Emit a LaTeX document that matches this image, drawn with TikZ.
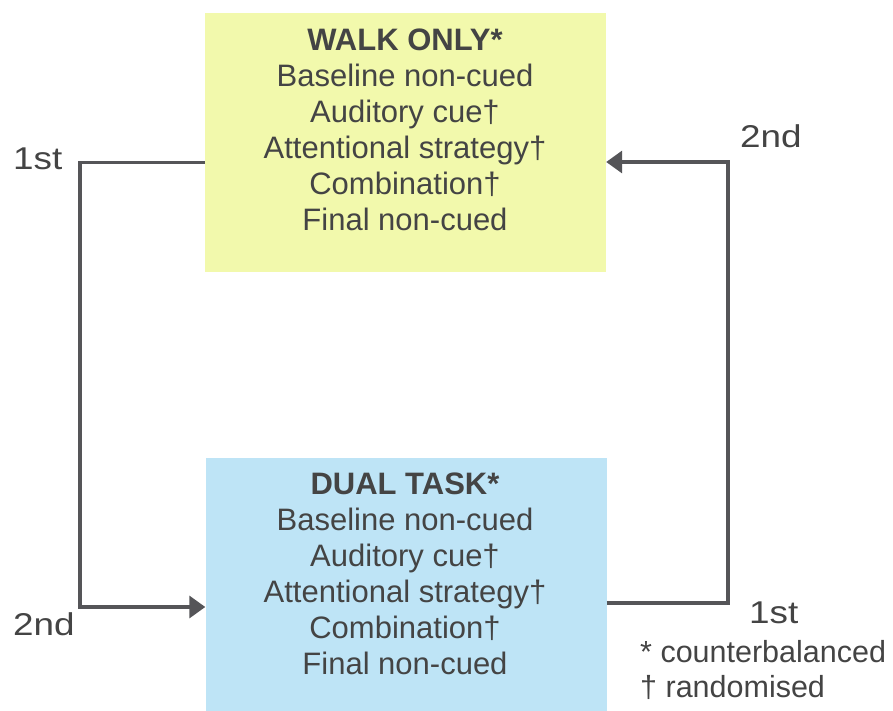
\documentclass[tikz,border=0pt]{standalone}
\usepackage{fontspec}
\setmainfont{Liberation Sans}
\usepackage{graphicx}
\usetikzlibrary{arrows.meta,calc}
\definecolor{walkfill}{RGB}{242,249,172}
\definecolor{dualfill}{RGB}{190,228,246}
\definecolor{ink}{RGB}{68,68,68}
\definecolor{wire}{RGB}{85,85,88}
\tikzset{
  boxshape/.style={rectangle, draw=none, inner sep=0pt, minimum width=401pt},
  boxtext/.style={inner sep=0pt, align=center, text=ink, font=\fontsize{31}{36}\selectfont},
  lbl/.style={inner sep=0pt, text=ink, font=\fontsize{31.5}{36}\selectfont},
  conn/.style={draw=wire, line width=3.4pt},
  tip/.style={-{Triangle[length=16pt,width=22pt]}}
}
\newcommand{\wlbl}[1]{\scalebox{1.17}[1]{#1}}
\begin{document}
\begin{tikzpicture}[x=1pt,y=-1pt]
\useasboundingbox[fill=white] (0,0) rectangle (893,711);
% boxes
\node[boxshape, fill=walkfill, minimum height=259pt] (walk) at (405.5,142.5) {};
\node[boxshape, fill=dualfill, minimum height=253pt] (dual) at (406,584.5) {};
% box texts
\node[boxtext, anchor=north] (walktxt) at (405,28.5)
  {{\bfseries WALK ONLY*}\\Baseline non-cued\\Auditory cue†\\Attentional strategy†\\Combination†\\Final non-cued};
\node[boxtext, anchor=north] (dualtxt) at (405,472.5)
  {{\bfseries DUAL TASK*}\\Baseline non-cued\\Auditory cue†\\Attentional strategy†\\Combination†\\Final non-cued};
% corner coordinates
\coordinate (lt) at (80,162.5);
\coordinate (lb) at (80,607);
\coordinate (rb) at (728,603);
\coordinate (rt) at (728,162);
% connectors
\draw[conn, tip] (walk.west |- lt) -- (lt) -- (lb) -- (dual.west |- lb);
\draw[conn, tip] (dual.east |- rb) -- (rb) -- (rt) -- (walk.east |- rt);
% labels
\node[lbl, anchor=base west] (l1) at (13,170) {\wlbl{1st}};
\node[lbl, anchor=base west] (l2) at (740,148) {\wlbl{2nd}};
\node[lbl, anchor=base west] (l3) at (13,635) {\wlbl{2nd}};
\node[lbl, anchor=base west] (l4) at (749,623) {\wlbl{1st}};
\node[lbl, anchor=base west, font=\fontsize{30.5}{36}\selectfont] (n1) at (640,662) {* counterbalanced};
\node[lbl, anchor=base west, font=\fontsize{30.5}{36}\selectfont] (n2) at (640,697) {† randomised};
\end{tikzpicture}
\end{document}
